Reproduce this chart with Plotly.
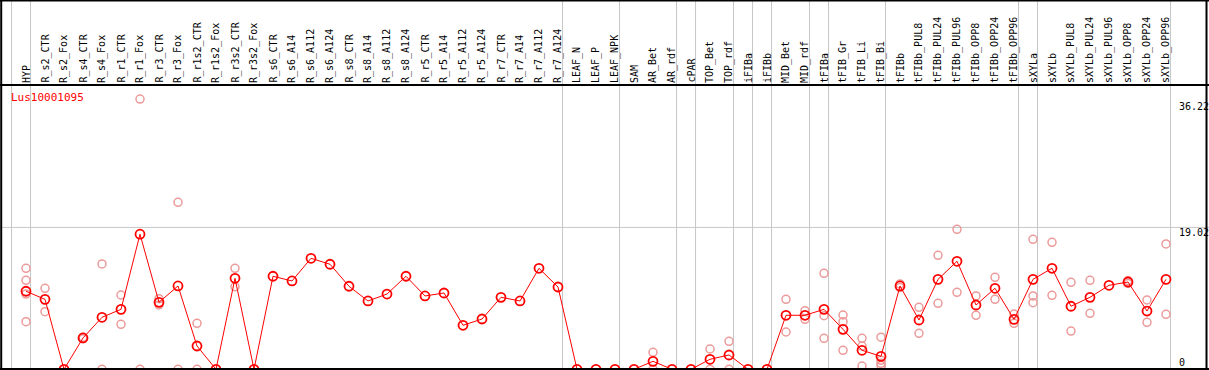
import plotly.graph_objects as go

W, H = 1209, 370

labels = ["HYP", "R_s2_CTR", "R_s2_Fox", "R_s4_CTR", "R_s4_Fox", "R_r1_CTR", "R_r1_Fox",
          "R_r3_CTR", "R_r3_Fox", "R_r1s2_CTR", "R_r1s2_Fox", "R_r3s2_CTR", "R_r3s2_Fox",
          "R_s6_CTR", "R_s6_A14", "R_s6_A112", "R_s6_A124", "R_s8_CTR", "R_s8_A14",
          "R_s8_A112", "R_s8_A124", "R_r5_CTR", "R_r5_A14", "R_r5_A112", "R_r5_A124",
          "R_r7_CTR", "R_r7_A14", "R_r7_A112", "R_r7_A124", "LEAF_N", "LEAF_P", "LEAF_NPK",
          "SAM", "AR_Bet", "AR_rdf", "cPAR", "TOP_Bet", "TOP_rdf", "iFIBa", "iFIBb",
          "MID_Bet", "MID_rdf", "tFIBa", "tFIB_Gr", "tFIB_Li", "tFIB_Bi", "tFIBb",
          "tFIBb_PUL8", "tFIBb_PUL24", "tFIBb_PUL96", "tFIBb_OPP8", "tFIBb_OPP24",
          "tFIBb_OPP96", "sXYLa", "sXYLb", "sXYLb_PUL8", "sXYLb_PUL24", "sXYLb_PUL96",
          "sXYLb_OPP8", "sXYLb_OPP24", "sXYLb_OPP96"]

means = [10.46, 9.38, 0, 4.20, 6.97, 8.04, 18.11, 8.98, 11.17, 3.12, 0, 12.20, 0,
         12.47, 11.84, 14.88, 14.08, 11.13, 9.16, 10.09, 12.47, 9.83, 10.23, 5.90, 6.74,
         9.65, 9.16, 13.54, 11.03, 0, 0, 0, 0, 1.07, 0, 0, 1.34, 1.92, 0, 0,
         7.24, 7.24, 8.04, 5.36, 2.55, 1.74, 11.17, 6.61, 12.06, 14.48, 8.62, 10.86,
         6.70, 12.06, 13.54, 8.45, 9.65, 11.26, 11.70, 7.81, 12.06]

replicates = [
    [13.54, 11.93, 10.09, 6.38], [10.86, 7.72], [], [4.3, 4.1], [14.12, 0], [9.96, 6.03],
    [36.22, 0], [9.46, 8.62], [22.39, 0], [6.17, 0], [], [13.54, 11.07], [],
    [], [], [], [], [], [], [], [], [], [], [], [], [], [], [], [],
    [], [], [], [], [2.28, 0], [], [], [2.72, 0], [3.75, 0], [], [],
    [9.38, 5.0], [7.86, 6.70], [12.87, 7.19, 4.16], [7.28, 6.38, 2.55],
    [4.16, 3.12, 0.44], [4.3, 1.2, 0.8, 0.5], [11.45, 10.95], [8.31, 4.83],
    [15.28, 8.85], [18.77, 10.32], [9.83, 7.24], [12.33, 9.38], [7.41, 6.17],
    [17.43, 9.83, 8.93], [17.02, 9.92], [11.66, 5.13], [11.93, 7.51], [],
    [11.9, 11.5], [9.29, 6.30], [16.8, 7.37],
]

group_sizes = [1, 28, 3, 3, 1, 2, 1, 1, 2, 1, 3, 7, 1, 7]
gene = "Lus10001095"
axis_labels = [36.22, 19.02, 0]

# geometry (pixels)
x0_px, dx_px = 26.0, 19.0
zero_px, per_unit = 369.3, 7.46
header_px = 85

xr = [-x0_px / dx_px, (W - x0_px) / dx_px]
yr = [-(H - zero_px) / per_unit, zero_px / per_unit]

def py(p):
    return 1 - p / H

fig = go.Figure()

rx, ry = [], []
for i, reps in enumerate(replicates):
    for v in reps:
        rx.append(i)
        ry.append(v)

fig.add_trace(go.Scatter(x=rx, y=ry, mode="markers",
                         marker=dict(symbol="circle-open", size=8, color="#ec9a9a",
                                     line=dict(width=1.5, color="#ec9a9a")),
                         hoverinfo="skip"))
fig.add_trace(go.Scatter(x=list(range(len(labels))), y=means, mode="lines+markers",
                         line=dict(color="#ff0000", width=1),
                         marker=dict(symbol="circle-open", size=9, color="#ff0000",
                                     line=dict(width=1.8, color="#ff0000"))))

shapes = []
grey = "#c6c6c6"
bounds = [-1]
c = -1
for g in group_sizes:
    c += g
    bounds.append(c)
for b in bounds:
    shapes.append(dict(type="line", xref="x", yref="paper", x0=b + 0.24, x1=b + 0.24,
                       y0=py(369), y1=1, line=dict(color=grey, width=1), layer="below"))
shapes.append(dict(type="line", xref="paper", yref="y", x0=0, x1=1, y0=axis_labels[1],
                   y1=axis_labels[1], line=dict(color=grey, width=1), layer="below"))
blk = dict(color="black", width=2)
shapes += [
    dict(type="line", xref="paper", yref="paper", x0=0, x1=1, y0=py(0.5), y1=py(0.5), line=blk),
    dict(type="line", xref="paper", yref="paper", x0=0, x1=1, y0=py(header_px), y1=py(header_px), line=blk),
    dict(type="line", xref="paper", yref="paper", x0=0, x1=1, y0=py(369), y1=py(369), line=blk),
    dict(type="line", xref="paper", yref="paper", x0=1.2 / W, x1=1.2 / W, y0=0, y1=1, line=blk),
    dict(type="line", xref="paper", yref="paper", x0=1206.5 / W, x1=1206.5 / W, y0=0, y1=1, line=blk),
]

font = "DejaVu Sans Mono"
ann = []
for i, lab in enumerate(labels):
    ann.append(dict(x=i, xref="x", y=py(84), yref="paper", text=lab, showarrow=False,
                    textangle=-90, xanchor="center", yanchor="bottom",
                    font=dict(family=font, size=10, color="black"), borderpad=0))
ann.append(dict(x=9 / W, xref="paper", y=py(97), yref="paper", text=gene, showarrow=False,
                xanchor="left", yanchor="middle", font=dict(family=font, size=11, color="#ff0000")))
label_pos = [107, 232.5, 362]
for v, p in zip(axis_labels, label_pos):
    ann.append(dict(x=1177 / W, xref="paper", y=py(p), yref="paper", text=f"{v:g}" if v == 0 else f"{v:.2f}",
                    showarrow=False, xanchor="left", yanchor="middle",
                    font=dict(family=font, size=10, color="black")))

fig.update_layout(
    width=W, height=H, margin=dict(l=0, r=0, t=0, b=0),
    paper_bgcolor="white", plot_bgcolor="white", showlegend=False,
    xaxis=dict(range=xr, visible=False, fixedrange=True),
    yaxis=dict(range=yr, visible=False, fixedrange=True),
    shapes=shapes, annotations=ann,
)

fig.write_html("out.html", config={"displayModeBar": False},
               post_script="document.body.style.margin='0';document.body.style.padding='0';")
